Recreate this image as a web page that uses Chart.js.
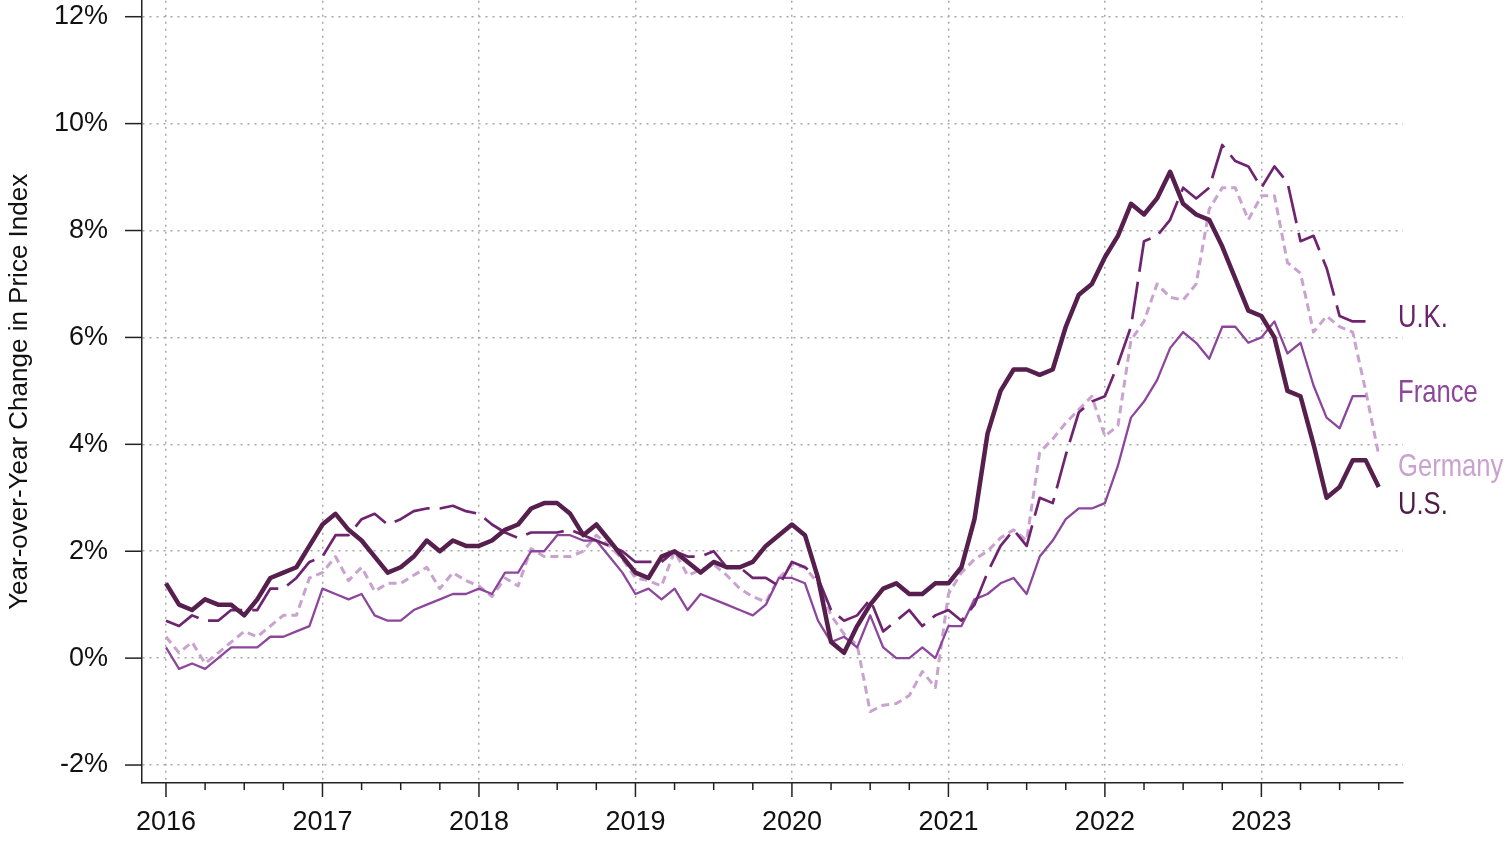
<!DOCTYPE html>
<html>
<head>
<meta charset="utf-8">
<script src="https://cdn.jsdelivr.net/npm/chart.js@4.4.0/dist/chart.umd.min.js"></script>
<style>
  html, body { margin: 0; padding: 0; background: #fff; }
</style>
</head>
<body>
<canvas id="myChart" width="1507" height="841"></canvas>
<script>
// year-over-year change in price index, monthly from Jan 2016
var startYear = 2016;
var years = [2016, 2017, 2018, 2019, 2020, 2021, 2022, 2023];
var yTicks = [-2, 0, 2, 4, 6, 8, 10, 12];

var us = [1.4, 1.0, 0.9, 1.1, 1.0, 1.0, 0.8, 1.1, 1.5, 1.6, 1.7, 2.1,
          2.5, 2.7, 2.4, 2.2, 1.9, 1.6, 1.7, 1.9, 2.2, 2.0, 2.2, 2.1,
          2.1, 2.2, 2.4, 2.5, 2.8, 2.9, 2.9, 2.7, 2.3, 2.5, 2.2, 1.9,
          1.6, 1.5, 1.9, 2.0, 1.8, 1.6, 1.8, 1.7, 1.7, 1.8, 2.1, 2.3,
          2.5, 2.3, 1.5, 0.3, 0.1, 0.6, 1.0, 1.3, 1.4, 1.2, 1.2, 1.4,
          1.4, 1.7, 2.6, 4.2, 5.0, 5.4, 5.4, 5.3, 5.4, 6.2, 6.8, 7.0,
          7.5, 7.9, 8.5, 8.3, 8.6, 9.1, 8.5, 8.3, 8.2, 7.7, 7.1, 6.5,
          6.4, 6.0, 5.0, 4.9, 4.0, 3.0, 3.2, 3.7, 3.7, 3.2];

var uk = [0.7, 0.6, 0.8, 0.7, 0.7, 0.9, 0.9, 0.9, 1.3, 1.3, 1.5, 1.8,
          1.9, 2.3, 2.3, 2.6, 2.7, 2.5, 2.6, 2.75, 2.8, 2.8, 2.85, 2.75,
          2.7, 2.5, 2.35, 2.25, 2.35, 2.35, 2.35, 2.4, 2.3, 2.2, 2.1, 2.0,
          1.8, 1.8, 1.8, 2.0, 1.9, 1.9, 2.0, 1.7, 1.7, 1.5, 1.5, 1.35,
          1.8, 1.7, 1.5, 0.9, 0.7, 0.8, 1.1, 0.5, 0.7, 0.9, 0.6, 0.8,
          0.9, 0.7, 1.0, 1.6, 2.1, 2.4, 2.1, 3.0, 2.9, 3.8, 4.6, 4.8,
          4.9, 5.5, 6.2, 7.8, 7.9, 8.2, 8.8, 8.6, 8.8, 9.6, 9.3, 9.2,
          8.8, 9.2, 8.9, 7.8, 7.9, 7.3, 6.4, 6.3, 6.3];

var france = [0.2, -0.2, -0.1, -0.2, 0.0, 0.2, 0.2, 0.2, 0.4, 0.4, 0.5, 0.6,
              1.3, 1.2, 1.1, 1.2, 0.8, 0.7, 0.7, 0.9, 1.0, 1.1, 1.2, 1.2,
              1.3, 1.2, 1.6, 1.6, 2.0, 2.0, 2.3, 2.3, 2.2, 2.2, 1.9, 1.6,
              1.2, 1.3, 1.1, 1.3, 0.9, 1.2, 1.1, 1.0, 0.9, 0.8, 1.0, 1.5,
              1.5, 1.4, 0.7, 0.3, 0.4, 0.2, 0.8, 0.2, 0.0, 0.0, 0.2, 0.0,
              0.6, 0.6, 1.1, 1.2, 1.4, 1.5, 1.2, 1.9, 2.2, 2.6, 2.8, 2.8,
              2.9, 3.6, 4.5, 4.8, 5.2, 5.8, 6.1, 5.9, 5.6, 6.2, 6.2, 5.9,
              6.0, 6.3, 5.7, 5.9, 5.1, 4.5, 4.3, 4.9, 4.9];

var germany = [0.4, 0.1, 0.3, -0.1, 0.1, 0.3, 0.5, 0.4, 0.6, 0.8, 0.8, 1.5,
               1.6, 1.9, 1.45, 1.7, 1.25, 1.4, 1.4, 1.55, 1.7, 1.3, 1.6, 1.45,
               1.35, 1.15, 1.5, 1.35, 2.05, 1.9, 1.9, 1.9, 2.0, 2.3, 2.1, 1.85,
               1.5, 1.45, 1.35, 2.0, 1.55, 1.65, 1.75, 1.55, 1.3, 1.15, 1.05, 1.5,
               1.75, 1.7, 1.4, 0.8, 0.45, 0.25, -1.0, -0.88, -0.85, -0.7, -0.25, -0.55,
               1.2, 1.6, 1.85, 2.0, 2.25, 2.4, 2.2, 3.85, 4.1, 4.4, 4.65, 4.9,
               4.15, 4.35, 5.95, 6.3, 7.0, 6.75, 6.7, 7.0, 8.4, 8.8, 8.8, 8.2,
               8.65, 8.65, 7.4, 7.2, 6.1, 6.4, 6.2, 6.1, 5.0, 3.8];

// where the country names sit on the right (in % units)
var endLabels = [
  { text: 'U.K.', at: 6.36, color: '#6a236c' },
  { text: 'France', at: 4.95, color: '#8c469b' },
  { text: 'Germany', at: 3.57, color: '#c9a2cf' },
  { text: 'U.S.', at: 2.86, color: '#4e1c46' }
];

var fontFam = "'Liberation Sans', Arial, sans-serif";

var toPoints = (arr) => arr.map((v, i) => ({ x: startYear + i / 12, y: v }));

var quarters = [];
years.forEach(y => { for (var q = 0; q < 4; q++) quarters.push(y + q / 4); });

var extras = {
  id: 'extras',
  afterDraw: function(chart) {
    var ctx = chart.ctx, xs = chart.scales.x, ys = chart.scales.y, area = chart.chartArea;
    ctx.save();
    ctx.strokeStyle = '#222';
    ctx.lineWidth = 1.5;
    xs.ticks.forEach(function(t) {
      var px = xs.getPixelForValue(t.value);
      var len = Number.isInteger(t.value) ? 14 : 7;
      ctx.beginPath(); ctx.moveTo(px, area.bottom); ctx.lineTo(px, area.bottom + len); ctx.stroke();
    });
    ys.ticks.forEach(function(t) {
      var py = ys.getPixelForValue(t.value);
      ctx.beginPath(); ctx.moveTo(area.left - 17, py); ctx.lineTo(area.left, py); ctx.stroke();
    });
    // country names, narrowed a bit like the original
    ctx.font = '32px ' + fontFam;
    ctx.textAlign = 'left';
    ctx.textBaseline = 'middle';
    endLabels.forEach(function(l) {
      ctx.save();
      ctx.translate(area.right - 5, ys.getPixelForValue(l.at));
      ctx.scale(0.8, 1);
      ctx.fillStyle = l.color;
      ctx.fillText(l.text, 0, 0);
      ctx.restore();
    });
    ctx.restore();
  }
};

var ctx = document.getElementById('myChart').getContext('2d');
var chart = new Chart(ctx, {
  type: 'line',
  data: {
    datasets: [
      { label: 'U.S.', data: toPoints(us), borderColor: '#561f4d', borderWidth: 4.5 },
      { label: 'U.K.', data: toPoints(uk), borderColor: '#6e246f', borderWidth: 2.7, borderDash: [38, 10] },
      { label: 'France', data: toPoints(france), borderColor: '#8c469b', borderWidth: 2.3 },
      { label: 'Germany', data: toPoints(germany), borderColor: '#c9a2cf', borderWidth: 3, borderDash: [8, 5] }
    ]
  },
  options: {
    responsive: false,
    animation: false,
    layout: { padding: { top: 0, right: 104, left: 0, bottom: 0 } },
    elements: { point: { radius: 0 }, line: { tension: 0, borderCapStyle: 'butt', borderJoinStyle: 'round' } },
    plugins: { legend: { display: false }, tooltip: { enabled: false } },
    scales: {
      x: {
        type: 'linear',
        min: 2015.8467,
        max: 2023.905,
        afterBuildTicks: function(scale) { scale.ticks = quarters.map(v => ({ value: v })); },
        afterFit: function(scale) { scale.height = 58; },
        ticks: {
          autoSkip: false, maxRotation: 0, padding: 0, color: '#111',
          font: { family: fontFam, size: 27 },
          callback: function(v) { return Number.isInteger(v) ? String(v) : ''; }
        },
        grid: {
          drawTicks: true,
          tickLength: 23,
          tickColor: 'rgba(0,0,0,0)',
          lineWidth: 1.5,
          color: function(c) { return c.tick && Number.isInteger(c.tick.value) ? '#a8a8a8' : 'rgba(0,0,0,0)'; }
        },
        border: { display: true, color: '#222', width: 1.5, dash: [2, 5] }
      },
      y: {
        min: -2.336,
        max: 12.3,
        afterBuildTicks: function(scale) { scale.ticks = yTicks.map(v => ({ value: v })); },
        afterFit: function(scale) { scale.width = 142; },
        ticks: {
          padding: 0, color: '#111',
          font: { family: fontFam, size: 27, lineHeight: 0.05 },
          callback: function(v) { return v + '%'; }
        },
        grid: {
          drawTicks: true,
          tickLength: 34,
          tickColor: 'rgba(0,0,0,0)',
          lineWidth: 1.5,
          color: '#a8a8a8'
        },
        border: { display: true, color: '#222', width: 1.5, dash: [2, 5] },
        title: {
          display: true,
          text: 'Year-over-Year Change in Price Index',
          color: '#111',
          font: { family: fontFam, size: 26 },
          padding: { top: 4, bottom: 0 }
        }
      }
    }
  },
  plugins: [extras]
});
</script>
</body>
</html>
